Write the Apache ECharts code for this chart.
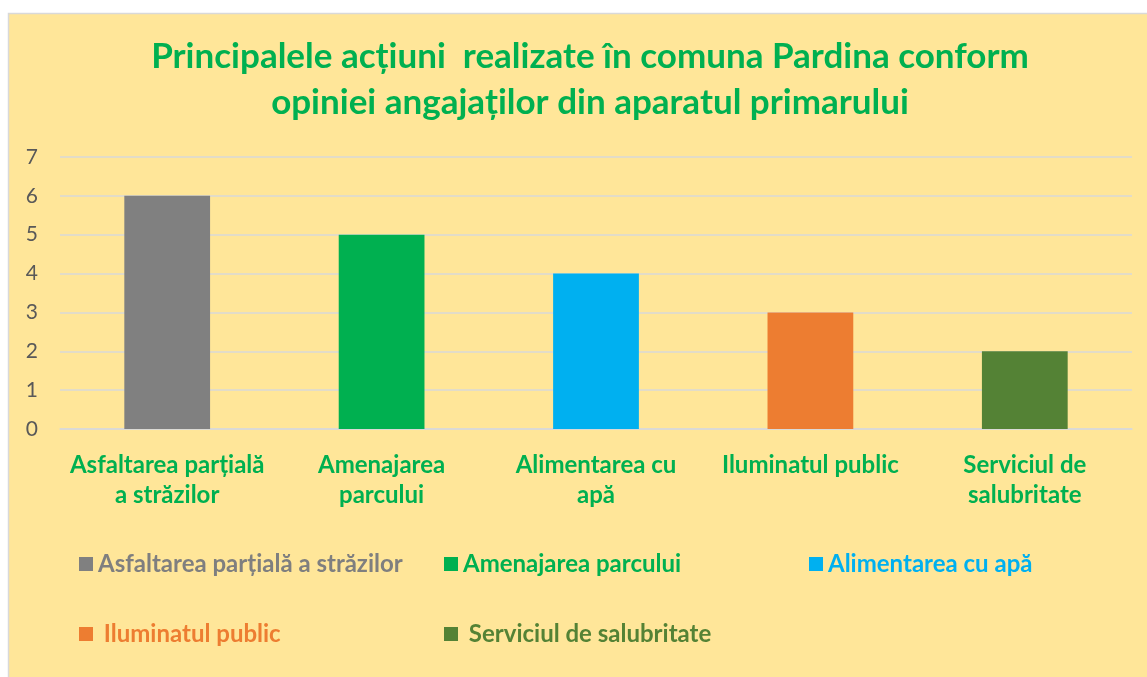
<!DOCTYPE html>
<html>
<head>
<meta charset="utf-8">
<script src="https://cdn.jsdelivr.net/npm/echarts@6/dist/echarts.min.js"></script>
<style>
  html, body { margin: 0; padding: 0; background: #fff; }
  #chart { width: 1147px; height: 677px; }
</style>
</head>
<body>
<div id="chart"></div>
<script>
// categorii
var categories = ['Asfaltarea parțială a străzilor', 'Amenajarea parcului', 'Alimentarea cu apă', 'Iluminatul public', 'Serviciul de salubritate'];
// etichete pe axa x (pe doua randuri)
var axisLabels = ['Asfaltarea parțială\na străzilor', 'Amenajarea\nparcului', 'Alimentarea cu\napă', 'Iluminatul public', 'Serviciul de\nsalubritate'];
// valori
var values = [6, 5, 4, 3, 2];
var colors = ['#808080', '#00B050', '#00B0F0', '#ED7D31', '#548235'];
var legendColors = ['#7F7F7F', '#00B050', '#00B0F0', '#ED7D31', '#548235'];

var FONT = 'Lato';

// cate o serie pe categorie, ca sa apara in legenda
var series = [];
for (var i = 0; i < categories.length; i++) {
  var d = [];
  for (var j = 0; j < categories.length; j++) {
    d.push(i === j ? values[i] : '-');
  }
  series.push({
    name: categories[i],
    type: 'bar',
    stack: 'total',
    barWidth: '40%',
    itemStyle: { color: colors[i] },
    data: d
  });
}

// pozitiile legendei
var legendPos = [
  { left: 74, top: 547, pad: '' },
  { left: 439, top: 547, pad: '' },
  { left: 804, top: 547, pad: '' },
  { left: 74, top: 617, pad: ' ' },
  { left: 439, top: 617, pad: ' ' }
];
var legends = [];
for (var k = 0; k < categories.length; k++) {
  (function (k) {
    legends.push({
      left: legendPos[k].left,
      top: legendPos[k].top,
      icon: 'rect',
      itemWidth: 14,
      itemHeight: 14,
      selectedMode: false,
      data: [categories[k]],
      formatter: function (name) { return legendPos[k].pad + name; },
      textStyle: { color: legendColors[k], fontSize: 24, fontWeight: 'bold', fontFamily: FONT }
    });
  })(k);
}

var option = {
  backgroundColor: '#fff',
  animation: false,
  graphic: [{
    type: 'rect',
    z: -10,
    shape: { x: 8.5, y: 13.5, width: 1200, height: 700 },
    style: { fill: '#FFE699', stroke: '#D9D9D9', lineWidth: 1.5 }
  }],
  title: {
    text: 'Principalele acțiuni  realizate în comuna Pardina conform\nopiniei angajaților din aparatul primarului',
    left: 585,
    top: 29,
    textAlign: 'center',
    textStyle: { color: '#00B050', fontSize: 35, fontWeight: 'bold', fontFamily: FONT, lineHeight: 46 }
  },
  legend: legends,
  grid: { left: 60, right: 15, top: 157, bottom: 248, containLabel: false },
  xAxis: {
    type: 'category',
    data: axisLabels,
    axisTick: { show: false },
    axisLine: { lineStyle: { color: '#D9D9D9', width: 1.5 } },
    axisLabel: {
      color: '#00B050', fontSize: 24, fontWeight: 'bold', fontFamily: FONT,
      lineHeight: 30, margin: 21, interval: 0
    }
  },
  yAxis: {
    type: 'value',
    min: 0,
    max: 7,
    interval: 1,
    axisLine: { show: false },
    axisTick: { show: false },
    splitLine: { lineStyle: { color: '#D9D9D9', width: 1.5 } },
    axisLabel: { color: '#595959', fontSize: 21, fontFamily: FONT, margin: 22 }
  },
  series: series
};

var myChart = echarts.init(document.getElementById('chart'));
myChart.setOption(option);
</script>
</body>
</html>
